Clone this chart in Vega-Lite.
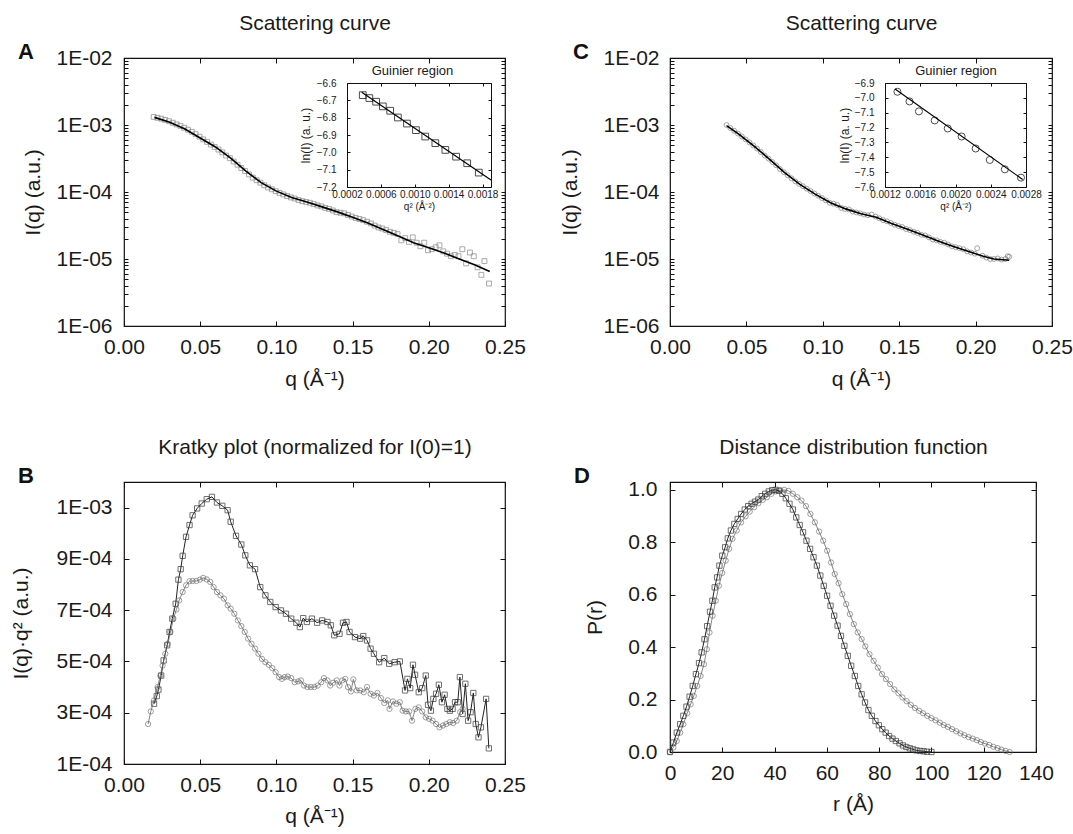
{
"$schema":"https://vega.github.io/schema/vega-lite/v6.json",
"background":"white",
"padding":{"left":10,"top":11,"right":5,"bottom":3},
"config":{
 "font":"Liberation Sans",
 "view":{"stroke":"#111","strokeWidth":1.2},
 "axis":{"grid":false,"domain":false,"ticks":true,"tickColor":"#111","tickWidth":1,"labelFont":"Liberation Sans","labelFontSize":21,"labelColor":"#1a1a1a","titleFont":"Liberation Sans","titleFontSize":21,"titleFontWeight":"normal","titleColor":"#1a1a1a","labelFlush":false,"labelOverlap":false,"labelBound":false},
 "title":{"font":"Liberation Sans","color":"#111"}
},
"datasets":{
"aPts":[{"q":0.0195,"I":1.32e-3},{"q":0.022,"I":1.28e-3},{"q":0.0245,"I":1.24e-3},{"q":0.027,"I":1.19e-3},{"q":0.0295,"I":1.14e-3},{"q":0.032,"I":1.08e-3},{"q":0.0345,"I":1.02e-3},{"q":0.037,"I":9.7e-4},{"q":0.0395,"I":9.1e-4},{"q":0.042,"I":8.5e-4},{"q":0.0445,"I":7.9e-4},{"q":0.047,"I":7.3e-4},{"q":0.0495,"I":6.7e-4},{"q":0.052,"I":6.1e-4},{"q":0.0545,"I":5.6e-4},{"q":0.057,"I":5.1e-4},{"q":0.0595,"I":4.7e-4},{"q":0.062,"I":4.3e-4},{"q":0.0645,"I":3.9e-4},{"q":0.067,"I":3.5e-4},{"q":0.0695,"I":3.2e-4},{"q":0.072,"I":2.85e-4},{"q":0.0745,"I":2.55e-4},{"q":0.077,"I":2.28e-4},{"q":0.0795,"I":2.05e-4},{"q":0.082,"I":1.83e-4},{"q":0.0845,"I":1.64e-4},{"q":0.087,"I":1.5e-4},{"q":0.0895,"I":1.38e-4},{"q":0.092,"I":1.26e-4},{"q":0.0945,"I":1.17e-4},{"q":0.097,"I":1.1e-4},{"q":0.0995,"I":1.03e-4},{"q":0.102,"I":9.7e-5},{"q":0.1045,"I":9.2e-5},{"q":0.107,"I":8.7e-5},{"q":0.1095,"I":8.3e-5},{"q":0.112,"I":8.0e-5},{"q":0.1145,"I":7.6e-5},{"q":0.117,"I":7.3e-5},{"q":0.1195,"I":7.1e-5},{"q":0.122,"I":6.9e-5},{"q":0.1245,"I":6.6e-5},{"q":0.127,"I":6.3e-5},{"q":0.1295,"I":6.1e-5},{"q":0.132,"I":5.8e-5},{"q":0.1345,"I":5.6e-5},{"q":0.137,"I":5.3e-5},{"q":0.1395,"I":5.0e-5},{"q":0.142,"I":4.9e-5},{"q":0.1445,"I":4.8e-5},{"q":0.147,"I":4.55e-5},{"q":0.1495,"I":4.3e-5},{"q":0.152,"I":4.1e-5},{"q":0.1545,"I":3.95e-5},{"q":0.157,"I":3.8e-5},{"q":0.1595,"I":3.6e-5},{"q":0.162,"I":3.4e-5},{"q":0.1645,"I":3.15e-5},{"q":0.167,"I":2.95e-5},{"q":0.1695,"I":2.85e-5},{"q":0.172,"I":2.7e-5},{"q":0.1745,"I":2.55e-5},{"q":0.177,"I":2.45e-5},{"q":0.1795,"I":2.35e-5},{"q":0.182,"I":1.9e-5},{"q":0.1845,"I":2.05e-5},{"q":0.187,"I":1.8e-5},{"q":0.1895,"I":2.1e-5},{"q":0.192,"I":1.75e-5},{"q":0.1945,"I":1.55e-5},{"q":0.197,"I":1.75e-5},{"q":0.1995,"I":1.35e-5},{"q":0.202,"I":1.4e-5},{"q":0.2045,"I":1.5e-5},{"q":0.207,"I":1.6e-5},{"q":0.2095,"I":1.3e-5},{"q":0.212,"I":1.2e-5},{"q":0.2145,"I":1.1e-5},{"q":0.217,"I":1.15e-5},{"q":0.2195,"I":1.1e-5},{"q":0.222,"I":1.4e-5},{"q":0.2245,"I":8.6e-6},{"q":0.227,"I":1.25e-5},{"q":0.2295,"I":1.1e-5},{"q":0.232,"I":7.5e-6},{"q":0.2345,"I":5.8e-6},{"q":0.2365,"I":9.3e-6},{"q":0.2395,"I":4.3e-6}],
"aFit":[{"q":0.02,"I":1.3e-3},{"q":0.03,"I":1.1e-3},{"q":0.04,"I":8.7e-4},{"q":0.05,"I":6.4e-4},{"q":0.06,"I":4.7e-4},{"q":0.07,"I":3.2e-4},{"q":0.08,"I":2.05e-4},{"q":0.09,"I":1.38e-4},{"q":0.1,"I":1.03e-4},{"q":0.11,"I":8.3e-5},{"q":0.12,"I":7.1e-5},{"q":0.13,"I":6.0e-5},{"q":0.14,"I":5.05e-5},{"q":0.15,"I":4.2e-5},{"q":0.16,"I":3.45e-5},{"q":0.17,"I":2.75e-5},{"q":0.18,"I":2.2e-5},{"q":0.19,"I":1.75e-5},{"q":0.2,"I":1.47e-5},{"q":0.21,"I":1.23e-5},{"q":0.22,"I":1.0e-5},{"q":0.23,"I":8.2e-6},{"q":0.24,"I":6.5e-6}],
"aGui":[{"q2":0.000386,"lnI":-6.670},{"q2":0.000464,"lnI":-6.687},{"q2":0.000544,"lnI":-6.708},{"q2":0.000623,"lnI":-6.735},{"q2":0.00071,"lnI":-6.760},{"q2":0.000801,"lnI":-6.799},{"q2":0.000908,"lnI":-6.834},{"q2":0.001014,"lnI":-6.872},{"q2":0.001124,"lnI":-6.909},{"q2":0.001243,"lnI":-6.947},{"q2":0.001361,"lnI":-6.986},{"q2":0.001488,"lnI":-7.025},{"q2":0.001619,"lnI":-7.063},{"q2":0.001756,"lnI":-7.117}],
"aGuiFit":[{"q2":0.000374,"lnI":-6.654},{"q2":0.0019,"lnI":-7.16}],
"cPts":[{"q":0.037,"I":1.0e-3},{"q":0.0395,"I":9.0e-4},{"q":0.042,"I":8.2e-4},{"q":0.0445,"I":7.45e-4},{"q":0.047,"I":6.75e-4},{"q":0.0495,"I":6.1e-4},{"q":0.052,"I":5.5e-4},{"q":0.0545,"I":4.95e-4},{"q":0.057,"I":4.45e-4},{"q":0.0595,"I":3.95e-4},{"q":0.062,"I":3.5e-4},{"q":0.0645,"I":3.15e-4},{"q":0.067,"I":2.8e-4},{"q":0.0695,"I":2.5e-4},{"q":0.072,"I":2.2e-4},{"q":0.0745,"I":1.98e-4},{"q":0.077,"I":1.78e-4},{"q":0.0795,"I":1.6e-4},{"q":0.082,"I":1.44e-4},{"q":0.0845,"I":1.32e-4},{"q":0.087,"I":1.22e-4},{"q":0.0895,"I":1.12e-4},{"q":0.092,"I":1.03e-4},{"q":0.0945,"I":9.5e-5},{"q":0.097,"I":8.8e-5},{"q":0.0995,"I":8.1e-5},{"q":0.102,"I":7.5e-5},{"q":0.1045,"I":6.9e-5},{"q":0.107,"I":6.7e-5},{"q":0.1095,"I":6.4e-5},{"q":0.112,"I":5.8e-5},{"q":0.1145,"I":5.6e-5},{"q":0.117,"I":5.5e-5},{"q":0.1195,"I":5.1e-5},{"q":0.122,"I":4.95e-5},{"q":0.1245,"I":4.8e-5},{"q":0.127,"I":4.6e-5},{"q":0.1295,"I":4.5e-5},{"q":0.132,"I":4.6e-5},{"q":0.1345,"I":4.3e-5},{"q":0.137,"I":4.05e-5},{"q":0.1395,"I":3.8e-5},{"q":0.142,"I":3.65e-5},{"q":0.1445,"I":3.45e-5},{"q":0.147,"I":3.25e-5},{"q":0.1495,"I":3.1e-5},{"q":0.152,"I":3.0e-5},{"q":0.1545,"I":2.8e-5},{"q":0.157,"I":2.7e-5},{"q":0.1595,"I":2.55e-5},{"q":0.162,"I":2.45e-5},{"q":0.1645,"I":2.3e-5},{"q":0.167,"I":2.25e-5},{"q":0.1695,"I":2.1e-5},{"q":0.172,"I":1.95e-5},{"q":0.1745,"I":1.9e-5},{"q":0.177,"I":1.8e-5},{"q":0.1795,"I":1.75e-5},{"q":0.182,"I":1.65e-5},{"q":0.1845,"I":1.55e-5},{"q":0.187,"I":1.5e-5},{"q":0.1895,"I":1.45e-5},{"q":0.192,"I":1.4e-5},{"q":0.1945,"I":1.3e-5},{"q":0.197,"I":1.25e-5},{"q":0.1995,"I":1.2e-5},{"q":0.201,"I":1.45e-5},{"q":0.2045,"I":1.12e-5},{"q":0.207,"I":1.05e-5},{"q":0.2095,"I":1.0e-5},{"q":0.212,"I":1.0e-5},{"q":0.2145,"I":1.02e-5},{"q":0.217,"I":9.8e-6},{"q":0.2195,"I":1.0e-5},{"q":0.221,"I":1.1e-5},{"q":0.222,"I":1.08e-5}],
"cFit":[{"q":0.037,"I":9.8e-4},{"q":0.045,"I":7.3e-4},{"q":0.055,"I":4.85e-4},{"q":0.065,"I":3.1e-4},{"q":0.075,"I":1.95e-4},{"q":0.085,"I":1.3e-4},{"q":0.095,"I":9.3e-5},{"q":0.105,"I":6.9e-5},{"q":0.115,"I":5.6e-5},{"q":0.125,"I":4.75e-5},{"q":0.135,"I":4.2e-5},{"q":0.145,"I":3.4e-5},{"q":0.155,"I":2.8e-5},{"q":0.165,"I":2.3e-5},{"q":0.175,"I":1.88e-5},{"q":0.185,"I":1.55e-5},{"q":0.195,"I":1.3e-5},{"q":0.205,"I":1.1e-5},{"q":0.212,"I":1.0e-5},{"q":0.222,"I":9.6e-6}],
"cGui":[{"q2":0.001341,"lnI":-6.959},{"q2":0.001478,"lnI":-7.024},{"q2":0.001585,"lnI":-7.091},{"q2":0.001764,"lnI":-7.152},{"q2":0.001912,"lnI":-7.206},{"q2":0.002069,"lnI":-7.260},{"q2":0.002229,"lnI":-7.341},{"q2":0.002389,"lnI":-7.418},{"q2":0.00256,"lnI":-7.481},{"q2":0.002743,"lnI":-7.537}],
"cGuiFit":[{"q2":0.001314,"lnI":-6.941},{"q2":0.002762,"lnI":-7.549}],
"bSq":[{"q":0.0197,"k":3.35e-4},{"q":0.0215,"k":3.65e-4},{"q":0.0226,"k":3.9e-4},{"q":0.0244,"k":4.45e-4},{"q":0.026,"k":5.04e-4},{"q":0.0283,"k":5.63e-4},{"q":0.0299,"k":6.15e-4},{"q":0.0317,"k":6.67e-4},{"q":0.0339,"k":7.25e-4},{"q":0.0357,"k":8.19e-4},{"q":0.0372,"k":8.6e-4},{"q":0.0385,"k":9.12e-4},{"q":0.0407,"k":9.86e-4},{"q":0.043,"k":1.032e-3},{"q":0.045,"k":1.07e-3},{"q":0.048,"k":1.097e-3},{"q":0.051,"k":1.116e-3},{"q":0.0543,"k":1.133e-3},{"q":0.0577,"k":1.142e-3},{"q":0.061,"k":1.12e-3},{"q":0.0645,"k":1.107e-3},{"q":0.068,"k":1.09e-3},{"q":0.07,"k":1.045e-3},{"q":0.0735,"k":9.9e-4},{"q":0.077,"k":9.56e-4},{"q":0.0796,"k":9.14e-4},{"q":0.0826,"k":8.75e-4},{"q":0.086,"k":8.6e-4},{"q":0.0894,"k":7.9e-4},{"q":0.0928,"k":7.58e-4},{"q":0.096,"k":7.32e-4},{"q":0.0995,"k":7.12e-4},{"q":0.103,"k":6.99e-4},{"q":0.1063,"k":6.86e-4},{"q":0.1097,"k":6.67e-4},{"q":0.1131,"k":6.51e-4},{"q":0.1154,"k":6.34e-4},{"q":0.1176,"k":6.69e-4},{"q":0.12,"k":6.54e-4},{"q":0.1233,"k":6.67e-4},{"q":0.1267,"k":6.51e-4},{"q":0.13,"k":6.6e-4},{"q":0.1335,"k":6.54e-4},{"q":0.1357,"k":6.41e-4},{"q":0.138,"k":6.02e-4},{"q":0.1414,"k":6.08e-4},{"q":0.1437,"k":6.51e-4},{"q":0.146,"k":6.54e-4},{"q":0.148,"k":6.15e-4},{"q":0.1516,"k":5.95e-4},{"q":0.155,"k":5.89e-4},{"q":0.157,"k":5.99e-4},{"q":0.1595,"k":5.82e-4},{"q":0.1618,"k":5.5e-4},{"q":0.164,"k":5.3e-4},{"q":0.1674,"k":4.97e-4},{"q":0.1708,"k":5.13e-4},{"q":0.174,"k":4.91e-4},{"q":0.1776,"k":4.97e-4},{"q":0.181,"k":5.0e-4},{"q":0.1844,"k":3.87e-4},{"q":0.186,"k":4.32e-4},{"q":0.1878,"k":3.96e-4},{"q":0.1896,"k":4.87e-4},{"q":0.191,"k":4.48e-4},{"q":0.1934,"k":3.8e-4},{"q":0.1957,"k":3.96e-4},{"q":0.198,"k":4.45e-4},{"q":0.1995,"k":3.31e-4},{"q":0.2014,"k":3.08e-4},{"q":0.203,"k":3.54e-4},{"q":0.2048,"k":3.74e-4},{"q":0.2066,"k":4.09e-4},{"q":0.2086,"k":3.41e-4},{"q":0.2104,"k":3.7e-4},{"q":0.2122,"k":3.15e-4},{"q":0.2138,"k":3.08e-4},{"q":0.2156,"k":3.15e-4},{"q":0.2172,"k":3.41e-4},{"q":0.219,"k":3.41e-4},{"q":0.2204,"k":4.39e-4},{"q":0.2222,"k":2.95e-4},{"q":0.224,"k":4.13e-4},{"q":0.2258,"k":2.69e-4},{"q":0.2274,"k":3.02e-4},{"q":0.2292,"k":3.77e-4},{"q":0.2308,"k":2.56e-4},{"q":0.2326,"k":2.04e-4},{"q":0.2342,"k":2.43e-4},{"q":0.2376,"k":3.54e-4},{"q":0.2394,"k":1.61e-4}],
"bCi":[{"q":0.0158,"k":2.56e-4},{"q":0.0176,"k":3.05e-4},{"q":0.0197,"k":3.48e-4},{"q":0.022,"k":4.0e-4},{"q":0.0238,"k":4.45e-4},{"q":0.0253,"k":4.84e-4},{"q":0.0271,"k":5.3e-4},{"q":0.0287,"k":5.69e-4},{"q":0.0305,"k":6.15e-4},{"q":0.0324,"k":6.67e-4},{"q":0.0344,"k":7.03e-4},{"q":0.0362,"k":7.38e-4},{"q":0.0385,"k":7.71e-4},{"q":0.0407,"k":7.97e-4},{"q":0.043,"k":8.13e-4},{"q":0.045,"k":8.14e-4},{"q":0.0475,"k":8.14e-4},{"q":0.0498,"k":8.19e-4},{"q":0.052,"k":8.26e-4},{"q":0.0543,"k":8.2e-4},{"q":0.0566,"k":8.1e-4},{"q":0.0588,"k":7.9e-4},{"q":0.061,"k":7.71e-4},{"q":0.0633,"k":7.58e-4},{"q":0.0656,"k":7.45e-4},{"q":0.068,"k":7.19e-4},{"q":0.07,"k":7.06e-4},{"q":0.0724,"k":6.86e-4},{"q":0.0747,"k":6.6e-4},{"q":0.077,"k":6.38e-4},{"q":0.0792,"k":6.15e-4},{"q":0.0814,"k":5.89e-4},{"q":0.0837,"k":5.69e-4},{"q":0.086,"k":5.5e-4},{"q":0.0882,"k":5.3e-4},{"q":0.0905,"k":5.1e-4},{"q":0.0928,"k":4.97e-4},{"q":0.095,"k":4.87e-4},{"q":0.0973,"k":4.74e-4},{"q":0.0995,"k":4.58e-4},{"q":0.1018,"k":4.39e-4},{"q":0.1036,"k":4.32e-4},{"q":0.1054,"k":4.39e-4},{"q":0.1075,"k":4.41e-4},{"q":0.1097,"k":4.35e-4},{"q":0.112,"k":4.19e-4},{"q":0.1143,"k":4.22e-4},{"q":0.1161,"k":4.26e-4},{"q":0.1181,"k":4.06e-4},{"q":0.1204,"k":4.0e-4},{"q":0.1226,"k":4.0e-4},{"q":0.1249,"k":4.0e-4},{"q":0.1271,"k":4.06e-4},{"q":0.1294,"k":4.19e-4},{"q":0.1312,"k":4.35e-4},{"q":0.1335,"k":4.26e-4},{"q":0.1353,"k":4.06e-4},{"q":0.1373,"k":4.17e-4},{"q":0.1396,"k":4.26e-4},{"q":0.1414,"k":4.06e-4},{"q":0.1432,"k":4.26e-4},{"q":0.1452,"k":4.32e-4},{"q":0.147,"k":4.0e-4},{"q":0.1489,"k":3.83e-4},{"q":0.1505,"k":4.3e-4},{"q":0.1527,"k":3.87e-4},{"q":0.155,"k":3.87e-4},{"q":0.1573,"k":3.8e-4},{"q":0.1595,"k":4.0e-4},{"q":0.1618,"k":3.74e-4},{"q":0.164,"k":3.67e-4},{"q":0.1663,"k":3.77e-4},{"q":0.1686,"k":3.57e-4},{"q":0.1708,"k":3.38e-4},{"q":0.1731,"k":3.48e-4},{"q":0.1742,"k":3.15e-4},{"q":0.1765,"k":3.44e-4},{"q":0.1787,"k":3.35e-4},{"q":0.181,"k":3.41e-4},{"q":0.1828,"k":3.08e-4},{"q":0.185,"k":3.05e-4},{"q":0.1871,"k":3.05e-4},{"q":0.189,"k":2.69e-4},{"q":0.1912,"k":3.15e-4},{"q":0.1934,"k":3.21e-4},{"q":0.1957,"k":3.05e-4},{"q":0.198,"k":2.82e-4},{"q":0.2002,"k":2.76e-4},{"q":0.2025,"k":2.69e-4},{"q":0.2048,"k":2.56e-4},{"q":0.207,"k":2.43e-4},{"q":0.2093,"k":2.5e-4},{"q":0.2115,"k":2.56e-4},{"q":0.2138,"k":2.63e-4},{"q":0.216,"k":2.6e-4},{"q":0.2183,"k":2.69e-4},{"q":0.2206,"k":3.02e-4},{"q":0.2222,"k":3.15e-4}],
"dSq":[{"r":0,"p":0},{"r":1.3,"p":0.036},{"r":2.6,"p":0.074},{"r":3.9,"p":0.106},{"r":5.1,"p":0.138},{"r":6.3,"p":0.173},{"r":7.5,"p":0.211},{"r":8.7,"p":0.252},{"r":9.9,"p":0.297},{"r":11.1,"p":0.339},{"r":12.1,"p":0.38},{"r":13.2,"p":0.43},{"r":14.2,"p":0.48},{"r":15.3,"p":0.535},{"r":16.2,"p":0.577},{"r":17.1,"p":0.628},{"r":18,"p":0.666},{"r":18.9,"p":0.711},{"r":20,"p":0.749},{"r":21.1,"p":0.781},{"r":22.1,"p":0.815},{"r":23.3,"p":0.845},{"r":24.6,"p":0.87},{"r":25.9,"p":0.889},{"r":27.2,"p":0.908},{"r":28.6,"p":0.925},{"r":29.9,"p":0.938},{"r":31.2,"p":0.947},{"r":32.5,"p":0.955},{"r":33.8,"p":0.963},{"r":35.1,"p":0.976},{"r":36.4,"p":0.985},{"r":37.8,"p":0.994},{"r":39.1,"p":0.999},{"r":40.4,"p":1.0},{"r":41.7,"p":0.996},{"r":43,"p":0.985},{"r":44.3,"p":0.968},{"r":45.7,"p":0.947},{"r":47,"p":0.925},{"r":48.3,"p":0.895},{"r":49.6,"p":0.866},{"r":50.9,"p":0.838},{"r":52.2,"p":0.806},{"r":53.6,"p":0.775},{"r":54.9,"p":0.743},{"r":56.2,"p":0.711},{"r":57.5,"p":0.673},{"r":58.8,"p":0.634},{"r":60.1,"p":0.596},{"r":61.4,"p":0.558},{"r":62.8,"p":0.52},{"r":64.1,"p":0.482},{"r":65.4,"p":0.443},{"r":66.7,"p":0.405},{"r":68,"p":0.367},{"r":69.3,"p":0.329},{"r":70.7,"p":0.29},{"r":72,"p":0.252},{"r":73.3,"p":0.22},{"r":74.6,"p":0.189},{"r":75.9,"p":0.16},{"r":77.2,"p":0.138},{"r":78.6,"p":0.118},{"r":79.9,"p":0.102},{"r":81.2,"p":0.087},{"r":82.5,"p":0.074},{"r":83.8,"p":0.061},{"r":85.1,"p":0.051},{"r":86.4,"p":0.042},{"r":87.8,"p":0.033},{"r":89.1,"p":0.025},{"r":90.4,"p":0.019},{"r":91.7,"p":0.014},{"r":93,"p":0.01},{"r":94.3,"p":0.006},{"r":95.7,"p":0.004},{"r":97,"p":0.003},{"r":98.3,"p":0.001},{"r":100,"p":0}],
"dCi":[{"r":0,"p":0},{"r":1.3,"p":0.017},{"r":2.6,"p":0.042},{"r":3.9,"p":0.074},{"r":5.1,"p":0.106},{"r":6.6,"p":0.148},{"r":7.9,"p":0.182},{"r":9.1,"p":0.214},{"r":10.4,"p":0.252},{"r":11.7,"p":0.29},{"r":13,"p":0.335},{"r":14.1,"p":0.392},{"r":15.1,"p":0.456},{"r":16.3,"p":0.52},{"r":17.5,"p":0.577},{"r":18.7,"p":0.634},{"r":20,"p":0.683},{"r":21.3,"p":0.73},{"r":22.6,"p":0.775},{"r":23.9,"p":0.813},{"r":25.5,"p":0.845},{"r":27.2,"p":0.876},{"r":28.9,"p":0.899},{"r":30.5,"p":0.917},{"r":32.2,"p":0.934},{"r":33.8,"p":0.949},{"r":35.5,"p":0.962},{"r":37.1,"p":0.972},{"r":38.8,"p":0.985},{"r":40.4,"p":0.994},{"r":42.1,"p":0.999},{"r":43.7,"p":1.0},{"r":45.3,"p":0.996},{"r":47,"p":0.985},{"r":48.7,"p":0.972},{"r":50.3,"p":0.959},{"r":52,"p":0.938},{"r":53.7,"p":0.908},{"r":55.4,"p":0.876},{"r":57,"p":0.841},{"r":58.6,"p":0.806},{"r":60.1,"p":0.768},{"r":61.6,"p":0.723},{"r":63,"p":0.679},{"r":64.5,"p":0.644},{"r":65.9,"p":0.602},{"r":67.4,"p":0.564},{"r":68.8,"p":0.526},{"r":70.3,"p":0.488},{"r":71.8,"p":0.456},{"r":73.3,"p":0.431},{"r":74.7,"p":0.403},{"r":76.3,"p":0.373},{"r":77.9,"p":0.348},{"r":79.5,"p":0.322},{"r":81.1,"p":0.297},{"r":82.6,"p":0.278},{"r":84.2,"p":0.259},{"r":85.8,"p":0.239},{"r":87.4,"p":0.224},{"r":88.9,"p":0.208},{"r":90.5,"p":0.194},{"r":92.1,"p":0.18},{"r":93.7,"p":0.168},{"r":95.3,"p":0.157},{"r":96.8,"p":0.148},{"r":98.4,"p":0.138},{"r":100,"p":0.129},{"r":101.6,"p":0.121},{"r":103.2,"p":0.112},{"r":104.7,"p":0.103},{"r":106.3,"p":0.096},{"r":107.9,"p":0.087},{"r":109.5,"p":0.079},{"r":111.1,"p":0.071},{"r":112.6,"p":0.064},{"r":114.2,"p":0.057},{"r":115.8,"p":0.051},{"r":117.4,"p":0.045},{"r":118.9,"p":0.038},{"r":120.5,"p":0.032},{"r":122.1,"p":0.027},{"r":123.7,"p":0.02},{"r":125.3,"p":0.015},{"r":126.8,"p":0.009},{"r":128.4,"p":0.004},{"r":129.9,"p":0}]
},
"columns":2,
"bounds":"flush",
"align":"each",
"spacing":{"row":156,"column":165},
"concat":[
{
 "width":381,"height":268,
 "title":{"text":"A","anchor":"start","frame":"group","dx":-106,"dy":51,"offset":0,"fontSize":22,"fontWeight":"bold"},
 "resolve":{"scale":{"x":"independent","y":"independent"}},
 "layer":[
  {"data":{"name":"aPts"},"mark":{"type":"point","shape":"square","filled":false,"size":24,"stroke":"#7a7a7a","strokeWidth":0.9},
   "encoding":{
    "x":{"field":"q","type":"quantitative","scale":{"domain":[0,0.25],"nice":false,"zero":false},"axis":{"orient":"bottom","values":[0,0.05,0.1,0.15,0.2,0.25],"format":".2f","tickSize":-5,"labelPadding":15,"title":"q (Å⁻¹)","titlePadding":11}},
    "y":{"field":"I","type":"quantitative","scale":{"type":"log","domain":[1e-6,0.01],"nice":false},"axis":{"orient":"left","values":[1e-6,2e-6,3e-6,4e-6,5e-6,6e-6,7e-6,8e-6,9e-6,1e-5,2e-5,3e-5,4e-5,5e-5,6e-5,7e-5,8e-5,9e-5,1e-4,2e-4,3e-4,4e-4,5e-4,6e-4,7e-4,8e-4,9e-4,0.001,0.002,0.003,0.004,0.005,0.006,0.007,0.008,0.009,0.01],"labelExpr":"abs(log(datum.value)/LN10 - round(log(datum.value)/LN10)) < 0.01 ? replace(upper(format(datum.value, '.0e')), 'E-', 'E-0') : ''","tickSize":-4,"labelPadding":16,"title":"I(q) (a.u.)","titlePadding":12}}}},
  {"data":{"name":"aFit"},"mark":{"type":"line","color":"black","strokeWidth":1.6},
   "encoding":{
    "x":{"field":"q","type":"quantitative","scale":{"domain":[0,0.25],"nice":false,"zero":false},"axis":{"orient":"top","values":[0,0.05,0.1,0.15,0.2,0.25],"labels":false,"tickSize":-5,"title":"Scattering curve","titlePadding":24}},
    "y":{"field":"I","type":"quantitative","scale":{"type":"log","domain":[1e-6,0.01],"nice":false},"axis":{"orient":"right","values":[1e-6,2e-6,3e-6,4e-6,5e-6,6e-6,7e-6,8e-6,9e-6,1e-5,2e-5,3e-5,4e-5,5e-5,6e-5,7e-5,8e-5,9e-5,1e-4,2e-4,3e-4,4e-4,5e-4,6e-4,7e-4,8e-4,9e-4,0.001,0.002,0.003,0.004,0.005,0.006,0.007,0.008,0.009,0.01],"labels":false,"tickSize":-4,"title":null}}}},
  {"data":{"name":"aGui"},"mark":{"type":"point","shape":"square","filled":false,"size":45,"stroke":"black","strokeWidth":1},
   "encoding":{
    "x":{"field":"q2","type":"quantitative","scale":{"domain":[0.0002,0.0019],"range":[223,367],"nice":false,"zero":false},"axis":{"orient":"bottom","offset":-139,"values":[0.0002,0.0006,0.001,0.0014,0.0018],"format":".4f","domain":true,"domainColor":"#111","tickSize":-3,"labelFontSize":10,"labelPadding":5,"title":"q² (Å⁻²)","titleFontSize":10,"titlePadding":2}},
    "y":{"field":"lnI","type":"quantitative","scale":{"domain":[-7.2,-6.6],"range":[129,25],"nice":false,"zero":false},"axis":{"orient":"left","offset":-223,"values":[-7.2,-7.1,-7.0,-6.9,-6.8,-6.7,-6.6],"format":".1f","domain":true,"domainColor":"#111","tickSize":-3,"labelFontSize":10,"labelPadding":14,"title":"ln(I) (a. u.)","titleFontSize":12,"titlePadding":4}}}},
  {"data":{"name":"aGuiFit"},"mark":{"type":"line","color":"black","strokeWidth":1.2},
   "encoding":{
    "x":{"field":"q2","type":"quantitative","scale":{"domain":[0.0002,0.0019],"range":[223,367],"nice":false,"zero":false},"axis":{"orient":"top","offset":-25,"values":[0.0002,0.0006,0.001,0.0014,0.0018],"labels":false,"domain":true,"domainColor":"#111","tickSize":-3,"title":"Guinier region","titleFontSize":13,"titlePadding":5,"titleX":288}},
    "y":{"field":"lnI","type":"quantitative","scale":{"domain":[-7.2,-6.6],"range":[129,25],"nice":false,"zero":false},"axis":{"orient":"right","offset":-14,"values":[-7.2,-7.1,-7.0,-6.9,-6.8,-6.7,-6.6],"labels":false,"domain":true,"domainColor":"#111","tickSize":-3,"title":null}}}}
 ]
},
{
 "width":382,"height":268,
 "title":{"text":"C","anchor":"start","frame":"group","dx":-97,"dy":51,"offset":0,"fontSize":22,"fontWeight":"bold"},
 "resolve":{"scale":{"x":"independent","y":"independent"}},
 "layer":[
  {"data":{"name":"cPts"},"mark":{"type":"point","shape":"circle","filled":false,"size":24,"stroke":"#6e6e6e","strokeWidth":0.9},
   "encoding":{
    "x":{"field":"q","type":"quantitative","scale":{"domain":[0,0.25],"nice":false,"zero":false},"axis":{"orient":"bottom","values":[0,0.05,0.1,0.15,0.2,0.25],"format":".2f","tickSize":-5,"labelPadding":15,"title":"q (Å⁻¹)","titlePadding":11}},
    "y":{"field":"I","type":"quantitative","scale":{"type":"log","domain":[1e-6,0.01],"nice":false},"axis":{"orient":"left","values":[1e-6,2e-6,3e-6,4e-6,5e-6,6e-6,7e-6,8e-6,9e-6,1e-5,2e-5,3e-5,4e-5,5e-5,6e-5,7e-5,8e-5,9e-5,1e-4,2e-4,3e-4,4e-4,5e-4,6e-4,7e-4,8e-4,9e-4,0.001,0.002,0.003,0.004,0.005,0.006,0.007,0.008,0.009,0.01],"labelExpr":"abs(log(datum.value)/LN10 - round(log(datum.value)/LN10)) < 0.01 ? replace(upper(format(datum.value, '.0e')), 'E-', 'E-0') : ''","tickSize":-4,"labelPadding":15,"title":"I(q) (a.u.)","titlePadding":22}}}},
  {"data":{"name":"cFit"},"mark":{"type":"line","color":"black","strokeWidth":1.6},
   "encoding":{
    "x":{"field":"q","type":"quantitative","scale":{"domain":[0,0.25],"nice":false,"zero":false},"axis":{"orient":"top","values":[0,0.05,0.1,0.15,0.2,0.25],"labels":false,"tickSize":-5,"title":"Scattering curve","titlePadding":24}},
    "y":{"field":"I","type":"quantitative","scale":{"type":"log","domain":[1e-6,0.01],"nice":false},"axis":{"orient":"right","values":[1e-6,2e-6,3e-6,4e-6,5e-6,6e-6,7e-6,8e-6,9e-6,1e-5,2e-5,3e-5,4e-5,5e-5,6e-5,7e-5,8e-5,9e-5,1e-4,2e-4,3e-4,4e-4,5e-4,6e-4,7e-4,8e-4,9e-4,0.001,0.002,0.003,0.004,0.005,0.006,0.007,0.008,0.009,0.01],"labels":false,"tickSize":-4,"title":null}}}},
  {"data":{"name":"cGui"},"mark":{"type":"point","shape":"circle","filled":false,"size":50,"stroke":"black","strokeWidth":1},
   "encoding":{
    "x":{"field":"q2","type":"quantitative","scale":{"domain":[0.0012,0.0028],"range":[215,356],"nice":false,"zero":false},"axis":{"orient":"bottom","offset":-139,"values":[0.0012,0.0016,0.002,0.0024,0.0028],"format":".4f","domain":true,"domainColor":"#111","tickSize":-3,"labelFontSize":10,"labelPadding":5,"title":"q² (Å⁻²)","titleFontSize":10,"titlePadding":2}},
    "y":{"field":"lnI","type":"quantitative","scale":{"domain":[-7.6,-6.9],"range":[129,25],"nice":false,"zero":false},"axis":{"orient":"left","offset":-215,"values":[-7.6,-7.5,-7.4,-7.3,-7.2,-7.1,-7.0,-6.9],"format":".1f","domain":true,"domainColor":"#111","tickSize":-3,"labelFontSize":10,"labelPadding":14,"title":"ln(I) (a. u.)","titleFontSize":12,"titlePadding":3}}}},
  {"data":{"name":"cGuiFit"},"mark":{"type":"line","color":"black","strokeWidth":1.2},
   "encoding":{
    "x":{"field":"q2","type":"quantitative","scale":{"domain":[0.0012,0.0028],"range":[215,356],"nice":false,"zero":false},"axis":{"orient":"top","offset":-25,"values":[0.0012,0.0016,0.002,0.0024,0.0028],"labels":false,"domain":true,"domainColor":"#111","tickSize":-3,"title":"Guinier region","titleFontSize":13,"titlePadding":5}},
    "y":{"field":"lnI","type":"quantitative","scale":{"domain":[-7.6,-6.9],"range":[129,25],"nice":false,"zero":false},"axis":{"orient":"right","offset":-26,"values":[-7.6,-7.5,-7.4,-7.3,-7.2,-7.1,-7.0,-6.9],"labels":false,"domain":true,"domainColor":"#111","tickSize":-3,"title":null}}}}
 ]
},
{
 "width":381,"height":282,
 "title":{"text":"B","anchor":"start","frame":"group","dx":-106,"dy":51,"offset":0,"fontSize":22,"fontWeight":"bold"},
 "resolve":{"axis":{"x":"independent","y":"independent"}},
 "layer":[
  {"data":{"name":"bSq"},"mark":{"type":"line","color":"#222","strokeWidth":1},
   "encoding":{
    "x":{"field":"q","type":"quantitative","scale":{"domain":[0,0.25],"nice":false,"zero":false},"axis":{"orient":"bottom","values":[0,0.05,0.1,0.15,0.2,0.25],"format":".2f","tickSize":-5,"labelPadding":15,"title":"q (Å⁻¹)","titlePadding":10}},
    "y":{"field":"k","type":"quantitative","scale":{"domain":[0.0001,0.0012],"nice":false,"zero":false},"axis":{"orient":"left","values":[0.0001,0.0003,0.0005,0.0007,0.0009,0.0011],"labelExpr":"replace(upper(format(datum.value, '.0e')), 'E-', 'E-0')","tickSize":-5,"labelPadding":17,"title":"I(q)·q² (a.u.)","titlePadding":24}}}},
  {"data":{"name":"bSq"},"mark":{"type":"point","shape":"square","filled":false,"size":28,"stroke":"#333","strokeWidth":1},
   "encoding":{
    "x":{"field":"q","type":"quantitative","axis":{"orient":"top","values":[0,0.05,0.1,0.15,0.2,0.25],"labels":false,"tickSize":-5,"title":"Kratky plot (normalized for I(0)=1)","titlePadding":24}},
    "y":{"field":"k","type":"quantitative","axis":{"orient":"right","values":[0.0001,0.0003,0.0005,0.0007,0.0009,0.0011],"labels":false,"tickSize":-5,"title":null}}}},
  {"data":{"name":"bCi"},"mark":{"type":"line","color":"#666","strokeWidth":0.8},
   "encoding":{"x":{"field":"q","type":"quantitative","axis":null},"y":{"field":"k","type":"quantitative","axis":null}}},
  {"data":{"name":"bCi"},"mark":{"type":"point","shape":"circle","filled":false,"size":28,"stroke":"#666","strokeWidth":0.9},
   "encoding":{"x":{"field":"q","type":"quantitative","axis":null},"y":{"field":"k","type":"quantitative","axis":null}}}
 ]
},
{
 "width":366,"height":270,
 "title":{"text":"D","anchor":"start","frame":"group","dx":-96,"dy":51,"offset":0,"fontSize":22,"fontWeight":"bold"},
 "resolve":{"axis":{"x":"independent","y":"independent"}},
 "layer":[
  {"data":{"name":"dCi"},"mark":{"type":"line","color":"#666","strokeWidth":0.8},
   "encoding":{
    "x":{"field":"r","type":"quantitative","scale":{"domain":[0,140],"nice":false,"zero":false},"axis":{"orient":"bottom","values":[0,20,40,60,80,100,120,140],"format":"d","tickSize":-5,"labelPadding":15,"title":"r (Å)","titlePadding":10}},
    "y":{"field":"p","type":"quantitative","scale":{"domain":[0,1.03],"nice":false,"zero":false},"axis":{"orient":"left","values":[0,0.2,0.4,0.6,0.8,1.0],"format":".1f","tickSize":-5,"labelPadding":18,"title":"P(r)","titlePadding":22}}}},
  {"data":{"name":"dCi"},"mark":{"type":"point","shape":"circle","filled":false,"size":28,"stroke":"#666","strokeWidth":0.9},
   "encoding":{
    "x":{"field":"r","type":"quantitative","axis":{"orient":"top","values":[0,20,40,60,80,100,120,140],"labels":false,"tickSize":-5,"title":"Distance distribution function","titlePadding":24}},
    "y":{"field":"p","type":"quantitative","axis":{"orient":"right","values":[0,0.2,0.4,0.6,0.8,1.0],"labels":false,"tickSize":-5,"title":null}}}},
  {"data":{"name":"dSq"},"mark":{"type":"line","color":"#222","strokeWidth":1},
   "encoding":{"x":{"field":"r","type":"quantitative","axis":null},"y":{"field":"p","type":"quantitative","axis":null}}},
  {"data":{"name":"dSq"},"mark":{"type":"point","shape":"square","filled":false,"size":28,"stroke":"#333","strokeWidth":1},
   "encoding":{"x":{"field":"r","type":"quantitative","axis":null},"y":{"field":"p","type":"quantitative","axis":null}}}
 ]
}
]
}
